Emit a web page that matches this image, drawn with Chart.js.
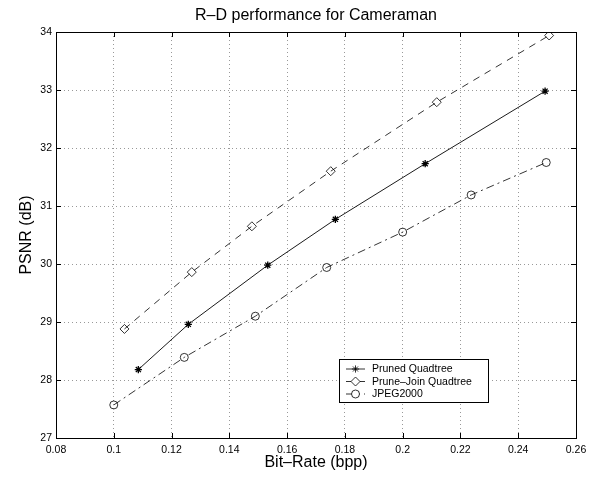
<!DOCTYPE html>
<html>
<head>
<meta charset="utf-8">
<script src="https://cdn.jsdelivr.net/npm/chart.js"></script>
<style>
  html, body { margin: 0; padding: 0; background: #fff; }
  #wrap { width: 594px; height: 478px; position: relative; }
</style>
</head>
<body>
<div id="wrap"><canvas id="chart__rd"></canvas></div>
<script>
// values
const chartTitle = "R\u2013D performance for Cameraman";
const xTitle = "Bit\u2013Rate (bpp)";
const yTitle = "PSNR (dB)";
const seriesNames = ["Pruned Quadtree", "Prune\u2013Join Quadtree", "JPEG2000"];

const ratePruned = [0.1085, 0.1258, 0.1533, 0.1767, 0.2078, 0.2493];
const psnrPruned = [28.18, 28.96, 29.98, 30.77, 31.73, 32.98];

const ratePruneJoin = [0.1037, 0.127, 0.1478, 0.1751, 0.2118, 0.2507];
const psnrPruneJoin = [28.88, 29.86, 30.65, 31.60, 32.79, 33.94];

const rateJpeg = [0.1, 0.1244, 0.149, 0.1737, 0.2, 0.2237, 0.2497];
const psnrJpeg = [27.57, 28.39, 29.10, 29.94, 30.55, 31.19, 31.75];

const xTicks = [0.08, 0.1, 0.12, 0.14, 0.16, 0.18, 0.2, 0.22, 0.24, 0.26];
const yTicks = [27, 28, 29, 30, 31, 32, 33, 34];

const FONT = "'Liberation Sans', Arial, Helvetica, sans-serif";
const ctx = document.getElementById("chart__rd");

function toPoints(xs, ys) {
  return xs.map((x, i) => ({ x: x, y: ys[i] }));
}

// draws the titles, box, inward ticks and the legend like a matlab figure
const matlabFrame = {
  id: "matlabFrame",
  afterDraw(chart) {
    const c = chart.ctx;
    const { left, right, top, bottom } = chart.chartArea;
    const xs = chart.scales.x;
    const ys = chart.scales.y;
    c.save();

    // titles
    c.fillStyle = "#000";
    c.font = "16px " + FONT;
    c.textAlign = "center";
    c.textBaseline = "alphabetic";
    c.fillText(chartTitle, (left + right) / 2, 20);
    c.fillText(xTitle, (left + right) / 2, 467);
    c.save();
    c.translate(31, (top + bottom) / 2);
    c.rotate(-Math.PI / 2);
    c.fillText(yTitle, 0, 0);
    c.restore();

    // frame + ticks
    c.strokeStyle = "#000";
    c.lineWidth = 1;
    c.strokeRect(left + 0.5, top + 0.5, right - left, bottom - top);
    c.beginPath();
    xTicks.forEach((v) => {
      const px = Math.round(xs.getPixelForValue(v)) + 0.5;
      c.moveTo(px, bottom); c.lineTo(px, bottom - 5);
      c.moveTo(px, top); c.lineTo(px, top + 5);
    });
    yTicks.forEach((v) => {
      const py = Math.round(ys.getPixelForValue(v)) + 0.5;
      c.moveTo(left, py); c.lineTo(left + 5, py);
      c.moveTo(right, py); c.lineTo(right - 5, py);
    });
    c.stroke();

    // legend box in the lower right of the axes
    const bx = right - 237, by = bottom - 79, bw = 149, bh = 43;
    c.fillStyle = "#fff";
    c.fillRect(bx, by, bw, bh);
    c.lineWidth = 1;
    c.strokeRect(bx + 0.5, by + 0.5, bw, bh);
    c.font = "10.5px " + FONT;
    c.textAlign = "left";
    c.textBaseline = "middle";
    chart.data.datasets.forEach((ds, i) => {
      const ly = by + 10 + i * 12.5;
      c.strokeStyle = "#000";
      c.lineWidth = 0.8;
      c.setLineDash(ds.borderDash || []);
      c.beginPath();
      c.moveTo(bx + 7, ly);
      c.lineTo(bx + 26, ly);
      c.stroke();
      c.setLineDash([]);
      c.fillStyle = "#fff";
      Chart.helpers.drawPoint(c, {
        pointStyle: ds.pointStyle,
        radius: ds.pointRadius,
        rotation: 0,
        borderWidth: ds.pointBorderWidth,
      }, bx + 16.5, ly);
      c.fillStyle = "#000";
      c.fillText(ds.label, bx + 33, ly + 0.5);
    });
    c.restore();
  },
};

const gridStyle = {
  color: "rgba(0,0,0,0.5)",
  lineWidth: 0.8,
  drawTicks: false,
};

new Chart(ctx, {
  type: "scatter",
  data: {
    datasets: [
      {
        label: seriesNames[0],
        data: toPoints(ratePruned, psnrPruned),
        showLine: true,
        borderColor: "#000",
        backgroundColor: "#000",
        borderWidth: 0.9,
        pointStyle: "star",
        pointRadius: 3.6,
        pointBorderWidth: 1.3,
      },
      {
        label: seriesNames[1],
        data: toPoints(ratePruneJoin, psnrPruneJoin),
        showLine: true,
        borderColor: "#000",
        backgroundColor: "rgba(255,255,255,0)",
        borderWidth: 0.8,
        borderDash: [7, 6],
        pointStyle: "rectRot",
        pointRadius: 4.5,
        pointBorderWidth: 0.8,
      },
      {
        label: seriesNames[2],
        data: toPoints(rateJpeg, psnrJpeg),
        showLine: true,
        borderColor: "#000",
        backgroundColor: "rgba(255,255,255,0)",
        borderWidth: 0.8,
        borderDash: [8, 4, 2, 4],
        pointStyle: "circle",
        pointRadius: 4,
        pointBorderWidth: 0.8,
      },
    ],
  },
  options: {
    responsive: true,
    maintainAspectRatio: false,
    animation: false,
    layout: { padding: { top: 32, right: 18, bottom: 0, left: 0 } },
    plugins: {
      legend: { display: false },
      tooltip: { enabled: false },
      title: { display: false },
    },
    scales: {
      x: {
        type: "linear",
        min: 0.08,
        max: 0.26,
        afterBuildTicks: (scale) => {
          scale.ticks = xTicks.map((v) => ({ value: v }));
        },
        afterFit: (scale) => {
          scale.height = 40;
        },
        border: { display: false, dash: [1, 3] },
        grid: gridStyle,
        ticks: {
          color: "#000",
          font: { family: FONT, size: 10.5 },
          padding: 6,
          maxRotation: 0,
          callback: (v) => Number(v.toFixed(2)).toString(),
        },
      },
      y: {
        min: 27,
        max: 34,
        afterBuildTicks: (scale) => {
          scale.ticks = yTicks.map((v) => ({ value: v }));
        },
        afterFit: (scale) => {
          scale.width = 56;
        },
        border: { display: false, dash: [1, 3] },
        grid: gridStyle,
        ticks: {
          color: "#000",
          font: { family: FONT, size: 10.5 },
          padding: 4,
        },
      },
    },
  },
  plugins: [matlabFrame],
});
</script>
</body>
</html>
